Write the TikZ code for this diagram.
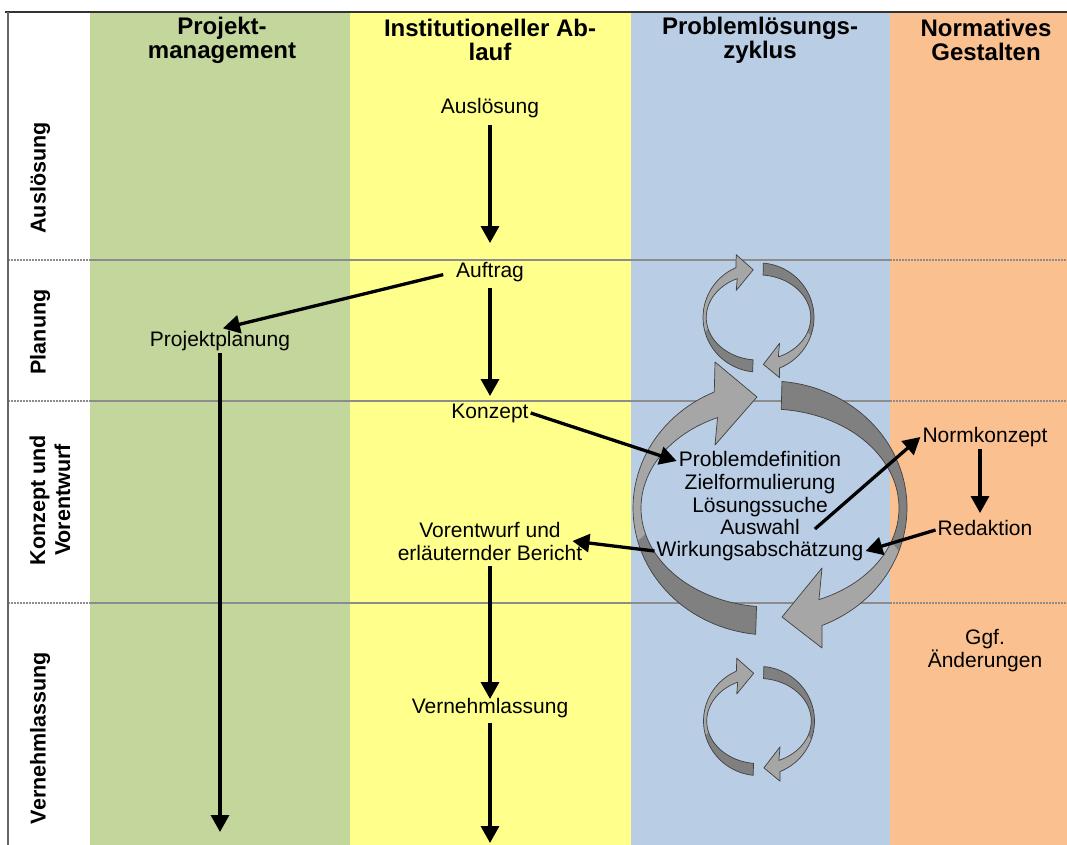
\documentclass[tikz,border=0pt]{standalone}
\usepackage{fontspec}
\setmainfont{Liberation Sans}
\usetikzlibrary{arrows.meta,calc}
\definecolor{cgreen}{HTML}{C3D69B}
\definecolor{cyellow}{HTML}{FFFF8C}
\definecolor{cblue}{HTML}{B9CDE5}
\definecolor{corange}{HTML}{FAC090}
\definecolor{ringlt}{HTML}{A6A6A6}
\definecolor{ringdk}{HTML}{808080}
\definecolor{ringln}{HTML}{404040}
\definecolor{gridc}{HTML}{8C8C8C}
\tikzset{
  txt/.style={font=\fontsize{21}{22.5}\selectfont, inner sep=2pt, text height=15pt, text depth=4.5pt},
  mtxt/.style={font=\fontsize{21}{23}\selectfont, inner sep=2pt, align=center},
  hdr/.style={font=\bfseries\fontsize{24}{24}\selectfont, align=center, inner sep=0pt},
  rowlab/.style={font=\bfseries\fontsize{21.5}{25}\selectfont, align=center, rotate=90, inner sep=0pt},
  arr/.style={line width=3.3pt, -{Triangle[length=17pt,width=18pt]}},
  gridline/.style={draw=gridc, line width=2pt},
  ringline/.style={draw=ringln, line width=0.7pt, line join=round},
}
\newcommand\cycring[4]{%
\begin{scope}[shift={(#1,#2)},xscale=#3,yscale=#4]
\fill[ringdk] plot[domain=96:165,samples=30] ({137*cos(\x)},{127*sin(\x)}) -- plot[domain=165:96,samples=30] ({129*cos(\x)},{99*sin(\x)}) -- cycle;
\fill[ringlt] plot[domain=165:246,samples=30] ({137*cos(\x)},{127*sin(\x)}) -- (-55,-146) -- (-13,-111) -- (-55,-63) -- plot[domain=246:165,samples=30] ({129*cos(\x)},{99*sin(\x)}) -- cycle;
\draw[ringline] plot[domain=96:246,samples=60] ({137*cos(\x)},{127*sin(\x)}) -- (-55,-146) -- (-13,-111) -- (-55,-63) -- plot[domain=246:96,samples=60] ({129*cos(\x)},{99*sin(\x)}) -- cycle;
\fill[ringdk] plot[domain=275:380,samples=30] ({137*cos(\x)},{127*sin(\x)}) -- plot[domain=380:275,samples=30] ({129*cos(\x)},{99*sin(\x)}) -- cycle;
\fill[ringlt] plot[domain=380:427.7,samples=30] ({137*cos(\x)},{127*sin(\x)}) -- (52,140) -- (12,109) -- (52,60) -- plot[domain=427.7:380,samples=30] ({129*cos(\x)},{99*sin(\x)}) -- cycle;
\draw[ringline] plot[domain=275:427.7,samples=60] ({137*cos(\x)},{127*sin(\x)}) -- (52,140) -- (12,109) -- (52,60) -- plot[domain=427.7:275,samples=60] ({129*cos(\x)},{99*sin(\x)}) -- cycle;
\end{scope}}
\begin{document}
\begin{tikzpicture}[x=1pt,y=-1pt]
\useasboundingbox (0,0) rectangle (1067,845);
\fill[white] (0,0) rectangle (1067,845);
\fill[cgreen] (90,12) rectangle (350,845);
\fill[cyellow] (350,12) rectangle (631,845);
\fill[cblue] (631,12) rectangle (890,845);
\fill[corange] (890,12) rectangle (1067,845);
\foreach \yy in {260,401,603} {
  \draw[gridline, densely dotted] (8,\yy) -- (90,\yy);
  \draw[gridline] (90,\yy) -- (890,\yy);
  \draw[gridline, densely dotted] (890,\yy) -- (1067,\yy);
}
\draw[line width=1.2pt, black!80] (5,12) -- (1067,12);
\draw[line width=1.5pt, black!60] (8,12) -- (8,845);

\cycring{758.5}{317.5}{0.405}{0.43}
\cycring{770}{508}{1}{1}
\cycring{759}{721}{0.405}{0.43}

\node[hdr] (h1) at (222,40) {Projekt-\\management};
\node[hdr] (h2) at (490,40) {Institutioneller Ab-\\lauf};
\node[hdr] (h3) at (760,40) {Problemlösungs-\\zyklus};
\node[hdr] (h4) at (986,40) {Normatives\\Gestalten};

\node[rowlab] (r1) at (40,178) {Auslösung};
\node[rowlab] (r2) at (40,332) {Planung};
\node[rowlab] (r3) at (50,500) {Konzept und\\Vorentwurf};
\node[rowlab] (r4) at (40,738) {Vernehmlassung};

\node[txt] (aus) at (490,108) {Auslösung};
\node[txt] (auf) at (490,272) {Auftrag};
\node[txt] (pp) at (220,341) {Projektplanung};
\node[txt] (kon) at (490,413) {Konzept};
\node[txt] (pd) at (760,461) {Problemdefinition};
\node[txt] (zf) at (760,484) {Zielformulierung};
\node[txt] (ls) at (760,507) {Lösungssuche};
\node[txt] (aw) at (760,529) {Auswahl};
\node[txt] (wa) at (760,551) {Wirkungsabschätzung};
\node[mtxt] (vor) at (490,541) {Vorentwurf und\\erläuternder Bericht};
\node[txt] (ver) at (490,708) {Vernehmlassung};
\node[txt] (nk) at (985,437) {Normkonzept};
\node[txt] (red) at (985,530) {Redaktion};
\node[mtxt] (ggf) at (985,651) {Ggf.\\Änderungen};
\coordinate (ppEnd) at (220,832);
\coordinate (verEnd) at (490,843);

\draw[arr, shorten <=5pt, shorten >=17pt] (aus) -- (auf);
\draw[arr, shorten <=4pt, shorten >=5pt] (auf) -- (kon);
\draw[arr, shorten <=4pt, shorten >=-3pt] (vor) -- (ver);
\draw[arr, shorten <=3pt] (ver) -- (verEnd);
\draw[arr] (pp) -- (ppEnd);
\draw[arr, shorten <=11pt, shorten >=3pt] (auf.west) -- (pp.north);
\draw[arr] (kon.east) -- (pd.west);
\draw[arr] (wa.west) -- ([xshift=-12pt]vor.east);
\draw[arr] ([xshift=13pt]aw.east) -- (nk.west);
\draw[arr, shorten >=5pt] ([xshift=-5pt]nk.south) -- ([xshift=-5pt]red.north);
\draw[arr] (red.west) -- (wa.east);
\end{tikzpicture}
\end{document}
